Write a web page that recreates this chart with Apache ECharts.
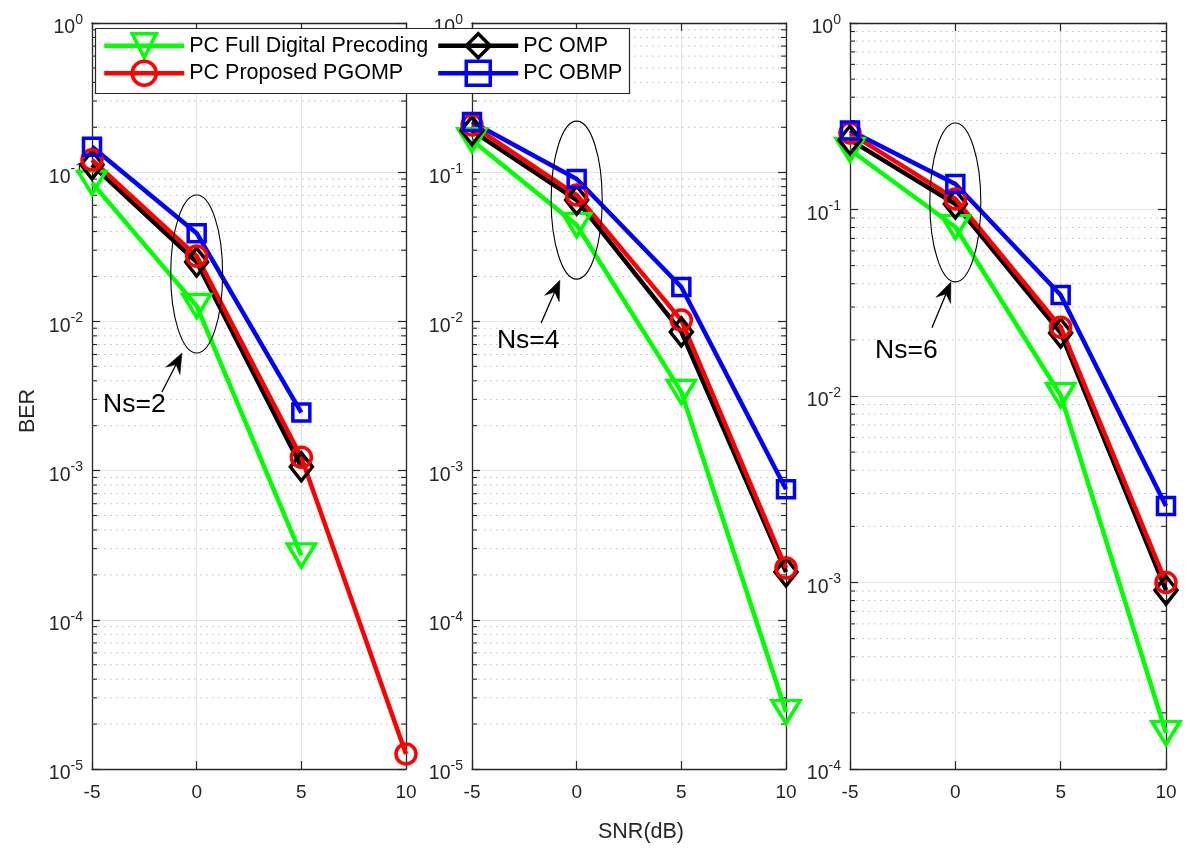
<!DOCTYPE html>
<html>
<head>
<meta charset="utf-8">
<script src="https://cdn.jsdelivr.net/npm/echarts@6/dist/echarts.min.js"></script>
<style>
html, body { margin: 0; padding: 0; background: #fff; }
#chart { width: 1190px; height: 848px; }
</style>
</head>
<body>
<div id="chart"></div>
<script>
// SNR points (dB)
const snr = [-5, 0, 5, 10];

// BER, Ns = 2
const ns2Full  = [0.085, 0.0127, 2.7e-4];
const ns2Omp   = [0.112, 0.025, 1.06e-3];
const ns2Pgomp = [0.121, 0.0274, 1.23e-3, 1.26e-5];
const ns2Obmp  = [0.148, 0.039, 2.45e-3];

// BER, Ns = 4
const ns4Full  = [0.164, 0.0443, 3.37e-3, 2.41e-5];
const ns4Omp   = [0.19, 0.065, 8.5e-3, 2.09e-4];
const ns4Pgomp = [0.207, 0.0703, 0.0102, 2.22e-4];
const ns4Obmp  = [0.217, 0.09, 0.017, 7.5e-4];

// BER, Ns = 6
const ns6Full  = [0.209, 0.0806, 0.0101, 1.56e-4];
const ns6Omp   = [0.236, 0.107, 0.0218, 9.1e-4];
const ns6Pgomp = [0.257, 0.114, 0.0234, 1.0e-3];
const ns6Obmp  = [0.265, 0.137, 0.0348, 2.57e-3];

const seriesNames = ['PC Full Digital Precoding', 'PC OMP', 'PC Proposed PGOMP', 'PC OBMP'];
const panelLabels = ['Ns=2', 'Ns=4', 'Ns=6'];
const berFloor = [1e-5, 1e-5, 1e-4];
const xLabel = 'SNR(dB)';
const yLabel = 'BER';

const panels = [
  [ns2Full, ns2Omp, ns2Pgomp, ns2Obmp],
  [ns4Full, ns4Omp, ns4Pgomp, ns4Obmp],
  [ns6Full, ns6Omp, ns6Pgomp, ns6Obmp]
];

// ellipse / arrow / label annotations, in data units of each panel
const annots = [
  { cx: 0, top: 0.0703, bottom: 6.14e-3, halfWidth: 1.24, tail: [-1.66, 3.36e-3], tip: [-0.70, 6.14e-3], label: [-4.47, 2.75e-3] },
  { cx: 0, top: 0.22, bottom: 0.0192, halfWidth: 1.22, tail: [-1.70, 9.76e-3], tip: [-0.80, 0.0189], label: [-3.81, 7.4e-3] },
  { cx: 0, top: 0.291, bottom: 0.0409, halfWidth: 1.21, tail: [-1.11, 0.0232], tip: [-0.21, 0.0409], label: [-3.81, 0.0174] }
];

const FONT = '"Liberation Sans", Arial, Helvetica, sans-serif';
const AX = '#262626';
const GRID_MAJOR = '#e4e4e4';
const GRID_MINOR = '#bcbcbc';
const LINE_W = 4.5;
const MARK_W = 3.5;

const styles = [
  { color: '#00ff00', symbol: 'triangle', size: [28, 23], rotate: 180 },
  { color: '#000000', symbol: 'diamond', size: [22, 28], rotate: 0 },
  { color: '#ff0000', symbol: 'circle', size: 20, rotate: 0 },
  { color: '#0000ff', symbol: 'rect', size: 17, rotate: 0 }
];

const gridBoxes = [
  { left: 92, top: 23, width: 314, height: 746 },
  { left: 472, top: 23, width: 314, height: 746 },
  { left: 850, top: 23, width: 316, height: 746 }
];

const xAxes = [], yAxes = [], series = [];

gridBoxes.forEach((g, p) => {
  const baseX = {
    gridIndex: p, type: 'value', min: -5, max: 10, interval: 5,
    axisLine: { show: true, onZero: false, lineStyle: { color: AX, width: 1.3 } },
    axisTick: { show: true, inside: true, length: 8, lineStyle: { color: AX, width: 1.2 } }
  };
  xAxes.push(Object.assign({}, baseX, {
    position: 'bottom',
    axisLabel: { fontSize: 19, color: AX, fontFamily: FONT, margin: 14 },
    splitLine: { show: true, lineStyle: { color: GRID_MAJOR, width: 1 } }
  }));
  xAxes.push(Object.assign({}, baseX, {
    position: 'top', axisLabel: { show: false }, splitLine: { show: false }
  }));

  const baseY = {
    gridIndex: p, type: 'log', logBase: 10, min: berFloor[p], max: 1,
    splitNumber: Math.round(-Math.log10(berFloor[p])),
    axisLine: { show: true, onZero: false, lineStyle: { color: AX, width: 1.3 } },
    axisTick: { show: true, inside: true, length: 8, lineStyle: { color: AX, width: 1.2 } }
  };
  yAxes.push(Object.assign({}, baseY, {
    position: 'left',
    axisLabel: {
      margin: 9,
      padding: [10, 0, 0, 0],
      formatter: v => '{b|10}{s|' + Math.round(Math.log10(v)) + '}',
      rich: {
        b: { fontSize: 19.5, color: AX, fontFamily: FONT, lineHeight: 30 },
        s: { fontSize: 14, color: AX, fontFamily: FONT, lineHeight: 14, verticalAlign: 'top' }
      }
    },
    splitLine: { show: true, lineStyle: { color: GRID_MAJOR, width: 1 } }
  }));
  yAxes.push(Object.assign({}, baseY, {
    position: 'right', axisLabel: { show: false }, splitLine: { show: false }
  }));

  // minor dotted grid lines and minor ticks at 2..9 x 10^e
  const minorVals = [];
  const eLow = Math.round(Math.log10(berFloor[p]));
  for (let e = eLow; e < 0; e++) {
    for (let k = 2; k <= 9; k++) minorVals.push([-5, k * Math.pow(10, e)]);
  }
  series.push({
    type: 'custom', xAxisIndex: 2 * p, yAxisIndex: 2 * p, z: 1, silent: true,
    data: minorVals,
    renderItem: (params, api) => {
      const cs = params.coordSys;
      const y = api.coord([api.value(0), api.value(1)])[1];
      const x0 = cs.x, x1 = cs.x + cs.width;
      return {
        type: 'group', children: [
          { type: 'line', shape: { x1: x0, y1: y, x2: x1, y2: y }, style: { stroke: GRID_MINOR, lineWidth: 1, lineDash: [1.5, 4.5] } },
          { type: 'line', shape: { x1: x0, y1: y, x2: x0 + 5, y2: y }, style: { stroke: AX, lineWidth: 1.1 } },
          { type: 'line', shape: { x1: x1 - 5, y1: y, x2: x1, y2: y }, style: { stroke: AX, lineWidth: 1.1 } }
        ]
      };
    }
  });

  // BER curves
  panels[p].forEach((vals, s) => {
    const st = styles[s];
    series.push({
      type: 'line', name: seriesNames[s], xAxisIndex: 2 * p, yAxisIndex: 2 * p, z: 2,
      data: vals.map((v, i) => [snr[i], v]),
      symbol: st.symbol, symbolSize: st.size, symbolRotate: st.rotate,
      showAllSymbol: true,
      lineStyle: { color: st.color, width: LINE_W },
      itemStyle: { color: 'rgba(255,255,255,0)', borderColor: st.color, borderWidth: MARK_W },
      emphasis: { disabled: true },
      silent: true
    });
  });

  // ellipse, arrow and Ns label
  series.push({
    type: 'custom', xAxisIndex: 2 * p, yAxisIndex: 2 * p, z: 3, silent: true,
    data: [[annots[p].cx, annots[p].top]],
    renderItem: (params, api) => {
      const a = annots[p];
      const top = api.coord([a.cx, a.top]);
      const bot = api.coord([a.cx, a.bottom]);
      const side = api.coord([a.cx + a.halfWidth, a.top]);
      const rx = side[0] - top[0];
      const ry = (bot[1] - top[1]) / 2;
      const tail = api.coord(a.tail), tip = api.coord(a.tip);
      const dx = tip[0] - tail[0], dy = tip[1] - tail[1];
      const L = Math.hypot(dx, dy);
      const ux = dx / L, uy = dy / L, px = -uy, py = ux;
      const hl = 20, hw = 8, notch = 13;
      const lab = api.coord(a.label);
      return {
        type: 'group', children: [
          { type: 'ellipse', shape: { cx: top[0], cy: top[1] + ry, rx: rx, ry: ry }, style: { fill: 'none', stroke: '#000', lineWidth: 1.1 } },
          { type: 'line', shape: { x1: tail[0], y1: tail[1], x2: tip[0] - ux * notch, y2: tip[1] - uy * notch }, style: { stroke: '#000', lineWidth: 1.3 } },
          { type: 'polygon', shape: { points: [
              [tip[0], tip[1]],
              [tip[0] - ux * hl + px * hw, tip[1] - uy * hl + py * hw],
              [tip[0] - ux * notch, tip[1] - uy * notch],
              [tip[0] - ux * hl - px * hw, tip[1] - uy * hl - py * hw]
            ] }, style: { fill: '#000', stroke: '#000', lineWidth: 0.5 } },
          { type: 'text', x: lab[0], y: lab[1], style: { text: panelLabels[p], fill: '#000', fontSize: 26.5, fontFamily: FONT, align: 'left', verticalAlign: 'middle' } }
        ]
      };
    }
  });
});

const legendCommon = {
  orient: 'vertical', top: 32, padding: 0, itemGap: 0,
  itemWidth: 80, itemHeight: 30, selectedMode: false,
  lineStyle: { width: LINE_W },
  itemStyle: { borderWidth: MARK_W },
  textStyle: { fontSize: 21.5, color: '#000', fontFamily: FONT }
};

const option = {
  animation: false,
  backgroundColor: '#fff',
  grid: gridBoxes.map(g => Object.assign({ containLabel: false }, g)),
  xAxis: xAxes,
  yAxis: yAxes,
  legend: [
    Object.assign({ left: 102, data: [seriesNames[0], seriesNames[2]] }, legendCommon),
    Object.assign({ left: 436, data: [seriesNames[1], seriesNames[3]] }, legendCommon)
  ],
  graphic: [
    { type: 'rect', z: 3, shape: { x: 95.5, y: 28.5, width: 534, height: 65 }, style: { fill: '#fff', stroke: AX, lineWidth: 1.2 } },
    { type: 'text', z: 3, x: 641, y: 832, style: { text: xLabel, fill: AX, fontSize: 21.5, fontFamily: FONT, align: 'center', verticalAlign: 'middle' } },
    { type: 'text', z: 3, x: 28, y: 411, rotation: Math.PI / 2, style: { text: yLabel, fill: AX, fontSize: 21.5, fontFamily: FONT, align: 'center', verticalAlign: 'middle' } }
  ],
  series: series
};

const chart = echarts.init(document.getElementById('chart'), null, { renderer: 'canvas' });
chart.setOption(option);
</script>
</body>
</html>
